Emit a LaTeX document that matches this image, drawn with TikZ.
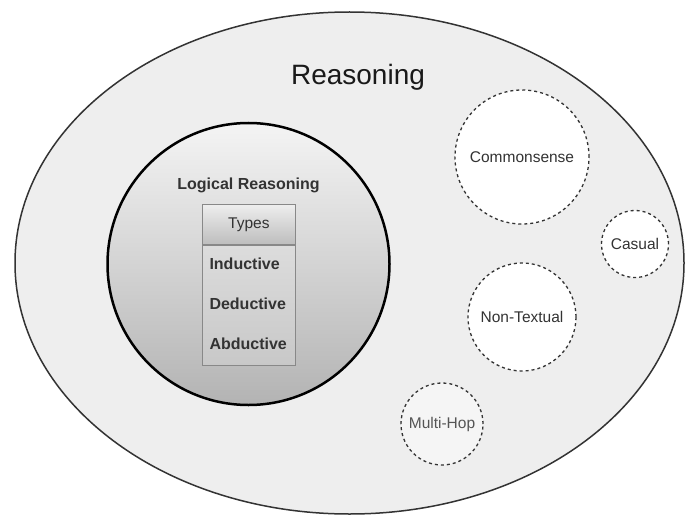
\documentclass[tikz,border=0pt]{standalone}
\usepackage{fontspec}
\setmainfont{Liberation Sans}
\usetikzlibrary{shapes.geometric}
\definecolor{outerline}{HTML}{333333}
\definecolor{outerfill}{HTML}{EEEEEE}
\definecolor{txt}{HTML}{333333}
\definecolor{boxline}{HTML}{888888}
\definecolor{gradtop}{HTML}{F4F4F4}
\definecolor{gradbot}{HTML}{B3B3B3}
\definecolor{hdrtop}{HTML}{EEEEEE}
\definecolor{hdrbot}{HTML}{BDBDBD}
\definecolor{bodytop}{HTML}{DCDCDC}
\definecolor{bodybot}{HTML}{C8C8C8}
\definecolor{hopfill}{HTML}{F5F5F5}
\definecolor{hoptxt}{HTML}{555555}
\tikzset{
  subcircle/.style={circle, draw=outerline, dash pattern=on 3pt off 3pt,
    line width=1.3pt, fill=white, inner sep=0pt, text=txt,
    font=\fontsize{15.5}{18}\selectfont},
  itemtext/.style={anchor=base west, text=txt, inner sep=0pt,
    font=\bfseries\fontsize{16}{19}\selectfont}
}
\begin{document}
\begin{tikzpicture}[x=1pt,y=-1pt]
\useasboundingbox (0,0) rectangle (685,516);
\fill[white] (0,0) rectangle (685,516);
% outer ellipse
\node[ellipse, draw=outerline, line width=1.5pt, fill=outerfill, minimum width=669pt, minimum height=502pt, inner sep=0pt] (reasoning) at (349.5,263) {};
\node[anchor=base, inner sep=0pt, text=black!90, font=\fontsize{28}{34}\selectfont] (rlabel) at (358,85) {Reasoning};
% logical reasoning circle
\node[circle, draw=black, line width=2.5pt, top color=gradtop, bottom color=gradbot, minimum size=282pt, inner sep=0pt] (logical) at (248.5,264) {};
\node[anchor=base, inner sep=0pt, text=txt, font=\bfseries\fontsize{16}{19}\selectfont] (llabel) at (248.5,189) {Logical Reasoning};
% types box
\node[draw=boxline, line width=0.8pt, top color=hdrtop, bottom color=hdrbot, minimum width=93pt, minimum height=40pt, inner sep=0pt, anchor=north west, text=txt, font=\fontsize{15.5}{18}\selectfont] (types) at (202,204) {Types};
\node[draw=boxline, line width=0.8pt, top color=bodytop, bottom color=bodybot, minimum width=93pt, minimum height=120pt, inner sep=0pt, anchor=north west] (body) at (types.south west) {};
\node[itemtext] (inductive) at (209.3,269) {Inductive};
\node[itemtext] (deductive) at (209.3,309) {Deductive};
\node[itemtext] (abductive) at (209.3,349) {Abductive};
% other reasoning circles
\node[subcircle, minimum size=134pt] (commonsense) at (522,157) {Commonsense};
\node[subcircle, minimum size=67pt] (casual) at (635,244) {Casual};
\node[subcircle, minimum size=108pt] (nontextual) at (522,317) {Non-Textual};
\node[subcircle, minimum size=82pt, fill=hopfill, text=hoptxt] (multihop) at (442,424) {Multi-Hop};
\end{tikzpicture}
\end{document}
